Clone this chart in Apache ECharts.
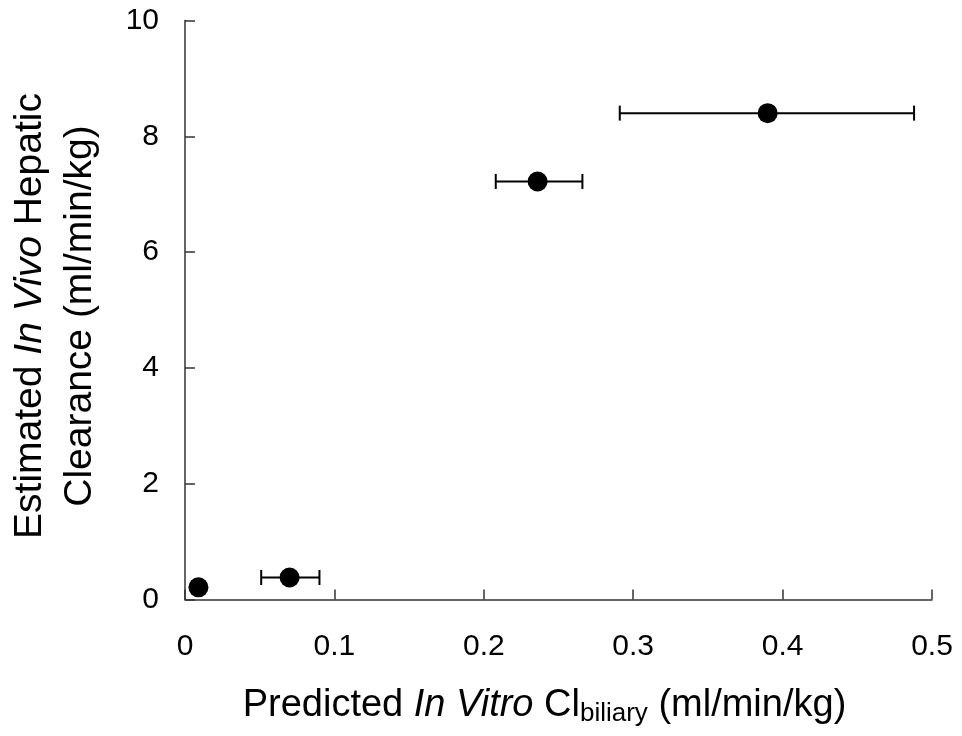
<!DOCTYPE html>
<html><head><meta charset="utf-8">
<script src="https://cdn.jsdelivr.net/npm/echarts@6/dist/echarts.min.js"></script>
<style>html,body{margin:0;padding:0;background:#fff}#c{width:962px;height:736px}</style>
</head><body><div id="c"></div>
<script>
// Data
const xValues = [0.009, 0.070, 0.236, 0.390];
const yValues = [0.21, 0.38, 7.22, 8.40];
const xErrLow = [0.009, 0.051, 0.208, 0.291];
const xErrHigh = [0.009, 0.090, 0.266, 0.488];
const xTicks = [0, 0.1, 0.2, 0.3, 0.4, 0.5];
const yTicks = [0, 2, 4, 6, 8, 10];

const font = 'Liberation Sans, Arial, sans-serif';
const chart = echarts.init(document.getElementById('c'));
const errData = xValues.map((x, i) => [xErrLow[i], xErrHigh[i], yValues[i]]);
const pts = xValues.map((x, i) => [x, yValues[i]]);

chart.setOption({
  animation: false,
  grid: {left: 185, right: 30, top: 20.5, bottom: 136.5, containLabel: false, outerBoundsMode: 'none'},
  xAxis: {
    type: 'value', min: xTicks[0], max: xTicks[xTicks.length - 1], interval: 0.1,
    splitLine: {show: false},
    axisLine: {lineStyle: {color: '#333', width: 1.5}},
    axisTick: {inside: true, length: 10, lineStyle: {color: '#333', width: 1.5}},
    axisLabel: {fontFamily: font, fontSize: 30, color: '#000', margin: 32},
    name: '{n|Predicted }{i|In Vitro}{n| Cl}{s|biliary}{n| (ml/min/kg)}',
    nameLocation: 'middle', nameGap: 85,
    nameTextStyle: {
      padding: [0, 28, 0, 0],
      rich: {
        n: {fontFamily: font, fontSize: 38, color: '#000'},
        i: {fontFamily: font, fontSize: 38, color: '#000', fontStyle: 'italic'},
        s: {fontFamily: font, fontSize: 26, color: '#000', verticalAlign: 'bottom', padding: [16, 0, 0, 0]}
      }
    }
  },
  yAxis: {
    type: 'value', min: yTicks[0], max: yTicks[yTicks.length - 1], interval: 2,
    splitLine: {show: false},
    axisLine: {show: true, lineStyle: {color: '#333', width: 1.5}},
    axisTick: {show: true, inside: true, length: 10, lineStyle: {color: '#333', width: 1.5}},
    axisLabel: {fontFamily: font, fontSize: 30, color: '#000', margin: 26},
    name: '{n|Estimated }{i|In Vivo}{n| Hepatic}\n{n|Clearance (ml/min/kg)}',
    nameLocation: 'middle', nameGap: 80, nameRotate: 90,
    nameTextStyle: {
      align: 'center', lineHeight: 50, padding: [0, 12, 0, 0],
      rich: {
        n: {fontFamily: font, fontSize: 39, color: '#000', lineHeight: 50},
        i: {fontFamily: font, fontSize: 39, color: '#000', fontStyle: 'italic', lineHeight: 50}
      }
    }
  },
  series: [
    {
      type: 'custom',
      data: errData,
      encode: {x: [0, 1], y: 2},
      renderItem: function (params, api) {
        const y = api.value(2);
        const a = api.coord([api.value(0), y]);
        const b = api.coord([api.value(1), y]);
        const h = 7.5;
        const st = {stroke: '#000', lineWidth: 2};
        return {type: 'group', children: [
          {type: 'line', shape: {x1: a[0], y1: a[1], x2: b[0], y2: b[1]}, style: st},
          {type: 'line', shape: {x1: a[0], y1: a[1] - h, x2: a[0], y2: a[1] + h}, style: st},
          {type: 'line', shape: {x1: b[0], y1: b[1] - h, x2: b[0], y2: b[1] + h}, style: st}
        ]};
      },
      z: 2
    },
    {
      type: 'scatter', data: pts, symbol: 'circle', symbolSize: 20,
      itemStyle: {color: '#000', opacity: 1}, z: 3
    }
  ]
});
</script></body></html>
